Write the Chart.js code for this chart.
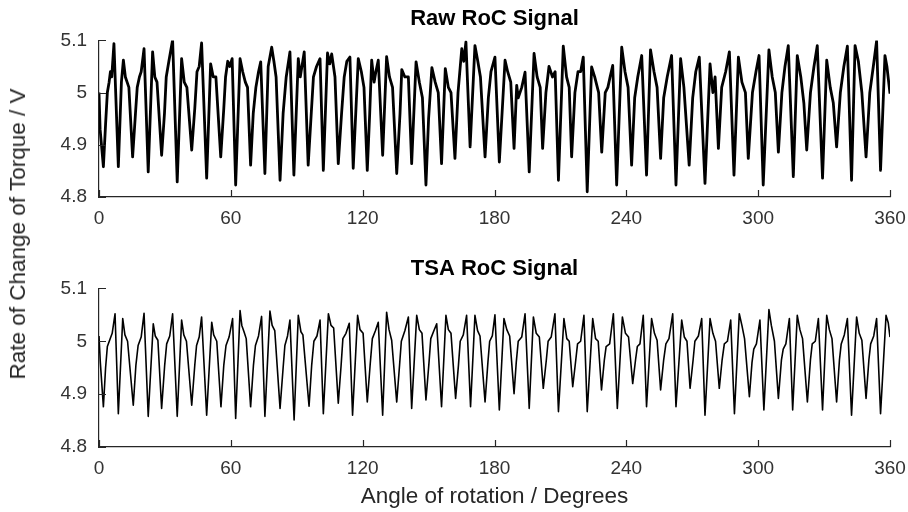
<!DOCTYPE html>
<html>
<head>
<meta charset="utf-8">
<script src="https://cdn.jsdelivr.net/npm/chart.js@4.4.1/dist/chart.umd.min.js"></script>
<style>
  html, body { margin: 0; padding: 0; background: #fff; }
  #wrap { position: relative; width: 908px; height: 512px; overflow: hidden; }
  #rawCanvas { position: absolute; left: 0; top: 0; }
  #tsaCanvas { position: absolute; left: 0; top: 250px; }
  #yTitle {
    position: absolute; left: 18px; top: 234px;
    transform: translate(-50%, -50%) rotate(-90deg);
    font-family: "Liberation Sans", Arial, sans-serif; font-size: 22.5px;
    color: #262626; white-space: nowrap;
  }
</style>
</head>
<body>
<div id="wrap">
  <canvas id="rawCanvas" width="908" height="250"></canvas>
  <canvas id="tsaCanvas" width="908" height="262"></canvas>
  <div id="yTitle">Rate of Change of Torque / V</div>
</div>
<script>
// Axis ticks
const angleTicks = [0, 60, 120, 180, 240, 300, 360];
const voltTicks = [4.8, 4.9, 5.0, 5.1];

// Raw rate-of-change signal: angle (degrees) and value (V)
const rawAngle = [
  0.0, 0.5, 2.0, 3.0, 3.8, 4.6, 5.2, 5.8, 6.8,
  8.8, 10.2, 11.1, 12.0, 12.8, 13.6, 15.3, 16.6, 17.4, 18.4, 19.2, 20.5,
  22.4, 24.4, 25.4, 26.4, 28.5, 29.8, 30.6, 31.8, 33.5,
  35.6, 37.6, 38.8, 40.0, 42.2, 43.6, 44.6, 45.6, 46.7,
  49.0, 50.8, 52.0, 53.2, 55.4, 56.8, 57.6, 58.6, 59.5, 60.6,
  62.2, 64.2, 65.4, 66.6, 67.6, 69.0, 70.2, 71.4, 72.6, 73.6,
  75.5, 77.0, 78.6, 79.6, 80.6, 82.4, 83.8, 85.2, 86.9,
  88.7, 90.7, 91.6, 93.4, 95.2, 96.6, 97.6, 99.0, 100.6,
  102.1, 104.0, 105.0, 105.9, 107.4, 108.9, 110.4, 111.6, 112.8, 114.2,
  115.7, 118.0, 119.4, 120.6, 122.1, 123.2, 124.1, 125.2, 126.0, 127.1,
  129.1, 130.9, 132.2, 133.6, 135.5, 137.0, 137.8, 139.2, 140.8,
  142.3, 144.3, 145.8, 147.2, 148.8, 150.0, 151.5, 153.0, 154.4,
  155.9, 157.6, 159.0, 160.2, 162.0, 163.4, 165.1, 166.0, 167.0,
  168.9, 171.1, 172.4, 173.6, 175.7, 177.2, 178.4, 180.2,
  182.2, 184.8, 186.0, 187.4, 188.9, 190.1, 190.8, 192.4, 193.9,
  195.8, 198.0, 199.4, 200.8, 201.9, 203.4, 204.8, 206.4, 207.6,
  209.1, 211.3, 212.8, 214.0, 215.1, 216.6, 218.0, 219.2, 220.4,
  222.2, 224.2, 225.6, 227.4, 228.8, 230.4, 231.6, 232.6, 233.8,
  235.6, 237.9, 239.4, 240.8, 242.4, 243.8, 245.2, 247.0,
  249.2, 251.0, 252.6, 254.0, 255.6, 257.0, 258.6, 260.6,
  262.6, 264.7, 266.2, 268.6, 270.2, 271.6, 273.2,
  275.8, 278.1, 279.4, 280.4, 281.9, 283.4, 285.2, 286.9,
  289.0, 291.0, 292.6, 294.2, 295.5, 297.4, 299.0, 300.4,
  302.3, 304.9, 306.4, 307.8, 309.2, 310.8, 312.2, 313.7,
  316.0, 317.8, 319.4, 320.8, 322.1, 323.8, 325.4, 326.9,
  329.3, 331.2, 332.8, 334.2, 335.7, 337.4, 339.0, 340.6,
  342.5, 344.1, 345.6, 347.2, 349.1, 350.8, 352.4, 353.9,
  355.7, 357.7, 358.6, 359.4, 360.0
];
const rawValue = [
  5.000, 4.930, 4.858, 4.940, 5.000, 5.020, 5.040, 5.030, 5.094,
  4.858, 5.020, 5.062, 5.030, 5.020, 5.010, 4.877, 4.960, 5.010, 5.030, 5.040, 5.084,
  4.848, 5.078, 5.030, 5.020, 4.880, 4.960, 5.030, 5.060, 5.101,
  4.829, 5.065, 5.020, 5.010, 4.890, 4.970, 5.040, 5.050, 5.095,
  4.836, 5.055, 5.030, 5.030, 4.877, 4.970, 5.030, 5.060, 5.050, 5.065,
  4.823, 5.065, 5.040, 5.020, 5.010, 4.861, 4.960, 5.010, 5.040, 5.059,
  4.845, 5.050, 5.087, 5.060, 5.030, 4.832, 4.960, 5.030, 5.078,
  4.842, 5.065, 5.030, 5.078, 4.861, 4.960, 5.030, 5.050, 5.065,
  4.851, 5.076, 5.055, 5.074, 5.030, 4.864, 4.960, 5.030, 5.060, 5.068,
  4.855, 5.065, 5.040, 5.010, 4.851, 4.960, 5.062, 5.020, 5.040, 5.062,
  4.880, 5.069, 5.030, 5.010, 4.845, 4.960, 5.044, 5.030, 5.030,
  4.864, 5.059, 5.020, 4.990, 4.823, 4.950, 5.048, 5.020, 5.000,
  4.864, 5.046, 5.010, 5.000, 4.874, 5.000, 5.084, 5.060, 5.097,
  4.896, 5.090, 5.060, 5.030, 4.877, 4.990, 5.040, 5.068,
  4.867, 5.062, 5.040, 5.020, 4.893, 5.014, 4.990, 5.010, 5.039,
  4.848, 5.075, 5.030, 5.010, 4.893, 5.000, 5.050, 5.030, 5.040,
  4.832, 5.089, 5.030, 5.010, 4.877, 5.000, 5.040, 5.040, 5.068,
  4.810, 5.049, 5.030, 5.000, 4.886, 5.000, 5.010, 5.030, 5.052,
  4.823, 5.087, 5.040, 5.010, 4.861, 4.990, 5.030, 5.071,
  4.842, 5.082, 5.040, 5.010, 4.874, 4.990, 5.030, 5.071,
  4.823, 5.065, 5.010, 4.861, 4.990, 5.040, 5.068,
  4.826, 5.055, 5.000, 5.030, 4.893, 5.010, 5.040, 5.078,
  4.842, 5.068, 5.020, 5.000, 4.874, 5.000, 5.040, 5.071,
  4.823, 5.082, 5.030, 5.000, 4.886, 5.000, 5.050, 5.090,
  4.839, 5.071, 5.030, 4.980, 4.890, 5.000, 5.050, 5.090,
  4.836, 5.062, 5.010, 4.980, 4.896, 5.000, 5.050, 5.089,
  4.832, 5.090, 5.060, 5.000, 4.877, 5.000, 5.050, 5.099,
  4.851, 5.071, 5.050, 5.020, 4.998
];

// Time-synchronous-averaged signal: angle (degrees) and value (V)
const tsaAngle = [
  0.0, 0.6, 2.0, 3.0, 3.8, 5.0, 6.0, 7.3,
  8.8, 10.8, 11.8, 13.0, 15.6, 16.8, 17.8, 19.2, 20.5,
  22.4, 24.7, 25.6, 26.8, 28.5, 29.9, 30.8, 32.2, 33.5,
  35.6, 37.6, 38.6, 39.8, 42.2, 43.6, 44.4, 45.6, 46.7,
  49.0, 51.3, 52.2, 53.6, 55.5, 56.8, 57.8, 59.2, 60.8,
  62.2, 64.2, 65.0, 66.0, 67.0, 69.0, 70.3, 71.2, 72.6, 74.0,
  75.5, 77.8, 78.8, 80.0, 82.4, 83.8, 84.6, 85.8, 86.9,
  88.8, 90.7, 91.9, 92.8, 95.6, 96.8, 97.8, 99.2, 100.6,
  102.1, 104.4, 105.6, 106.8, 108.9, 110.2, 111.0, 112.4, 113.9,
  115.4, 117.7, 118.8, 120.2, 122.1, 123.4, 124.4, 125.8, 127.1,
  129.1, 130.9, 132.0, 133.2, 135.5, 136.8, 137.6, 139.2, 140.8,
  142.3, 144.6, 145.8, 147.0, 148.8, 150.2, 151.0, 152.4, 153.7,
  155.9, 157.9, 159.0, 160.2, 162.3, 163.6, 164.4, 165.8, 167.3,
  169.1, 171.1, 172.3, 173.4, 175.7, 177.0, 177.8, 179.0, 180.2,
  182.2, 184.3, 185.6, 186.9, 188.9, 189.9, 190.8, 192.4, 193.9,
  195.8, 197.7, 199.0, 200.4, 202.2, 203.6, 204.4, 205.8, 207.5,
  209.1, 211.6, 212.9, 214.0, 215.6, 217.0, 217.8, 219.2, 220.7,
  222.2, 224.7, 226.0, 227.2, 228.7, 230.0, 230.8, 232.4, 234.1,
  235.9, 238.2, 239.6, 241.0, 242.9, 244.2, 245.0, 246.2, 247.7,
  249.2, 251.5, 252.8, 254.0, 255.6, 257.0, 258.0, 259.4, 261.1,
  262.6, 265.2, 266.4, 267.6, 269.0, 270.4, 271.2, 272.8, 274.3,
  275.8, 278.1, 279.4, 280.6, 282.3, 283.6, 284.6, 286.0, 287.5,
  289.2, 291.4, 292.6, 293.8, 296.0, 297.2, 298.0, 299.2, 300.8,
  302.6, 304.9, 306.0, 307.4, 309.2, 310.6, 311.4, 312.6, 314.2,
  315.7, 317.8, 319.0, 320.2, 322.4, 323.8, 324.6, 326.0, 327.4,
  329.3, 331.2, 332.4, 333.6, 335.7, 337.0, 337.8, 339.2, 340.6,
  342.5, 344.8, 346.0, 347.2, 349.1, 350.4, 351.2, 352.6, 353.9,
  355.7, 358.2, 359.2, 360.0
];
const tsaValue = [
  5.010, 4.960, 4.876, 4.950, 4.990, 5.004, 5.015, 5.052,
  4.863, 5.043, 5.012, 5.000, 4.879, 4.955, 4.992, 5.008, 5.053,
  4.858, 5.033, 5.010, 5.002, 4.873, 4.955, 4.995, 5.010, 5.052,
  4.858, 5.040, 5.012, 5.000, 4.879, 4.955, 4.992, 5.008, 5.046,
  4.860, 5.036, 5.012, 5.000, 4.876, 4.955, 4.992, 5.008, 5.043,
  4.854, 5.058, 5.030, 5.018, 5.005, 4.876, 4.955, 4.992, 5.010, 5.047,
  4.858, 5.057, 5.030, 5.020, 4.873, 4.950, 4.992, 5.010, 5.040,
  4.851, 5.049, 5.018, 5.012, 4.877, 4.955, 5.000, 5.010, 5.040,
  4.863, 5.052, 5.030, 5.025, 4.883, 4.955, 5.005, 5.015, 5.034,
  4.860, 5.049, 5.022, 5.015, 4.885, 4.955, 5.005, 5.020, 5.036,
  4.860, 5.055, 5.022, 5.002, 4.885, 4.955, 5.000, 5.020, 5.046,
  4.873, 5.049, 5.022, 5.015, 4.889, 4.960, 5.005, 5.020, 5.033,
  4.876, 5.049, 5.022, 5.015, 4.892, 4.955, 5.000, 5.012, 5.049,
  4.876, 5.049, 5.020, 5.010, 4.885, 4.960, 5.000, 5.010, 5.050,
  4.870, 5.043, 5.022, 5.010, 4.901, 4.960, 5.000, 5.008, 5.052,
  4.873, 5.046, 5.015, 5.008, 4.911, 4.965, 5.000, 5.008, 5.052,
  4.867, 5.043, 5.005, 5.000, 4.914, 4.965, 4.995, 5.000, 5.049,
  4.867, 5.043, 5.005, 5.000, 4.908, 4.965, 4.990, 4.995, 5.052,
  4.873, 5.046, 5.015, 5.008, 4.920, 4.965, 4.990, 4.995, 5.049,
  4.876, 5.043, 5.015, 5.002, 4.908, 4.965, 4.995, 5.005, 5.052,
  4.876, 5.040, 5.008, 5.000, 4.911, 4.965, 5.000, 5.010, 5.043,
  4.860, 5.043, 5.015, 5.000, 4.911, 4.965, 4.995, 5.000, 5.040,
  4.863, 5.052, 5.030, 5.005, 4.895, 4.960, 4.985, 4.995, 5.040,
  4.870, 5.060, 5.030, 5.000, 4.892, 4.965, 4.985, 4.995, 5.043,
  4.870, 5.049, 5.022, 5.005, 4.885, 4.965, 4.995, 5.000, 5.043,
  4.870, 5.049, 5.022, 5.005, 4.885, 4.965, 4.995, 5.012, 5.043,
  4.860, 5.046, 5.015, 5.002, 4.892, 4.965, 4.995, 5.010, 5.043,
  4.863, 5.049, 5.035, 5.008
];

const FONT = '"Liberation Sans", Arial, Helvetica, sans-serif';
const AXIS_COLOR = '#262626';
const TICK_COLOR = '#333333';

// MATLAB-style tick marks pointing into the plot area
const inwardTicks = {
  id: 'inwardTicks',
  afterDraw(chart) {
    const { ctx, chartArea: a, scales: { x, y } } = chart;
    ctx.save();
    ctx.strokeStyle = AXIS_COLOR;
    ctx.lineWidth = 1.2;
    ctx.beginPath();
    x.ticks.forEach(t => {
      const px = Math.round(x.getPixelForValue(t.value)) + 0.5;
      ctx.moveTo(px, a.bottom);
      ctx.lineTo(px, a.bottom - 7);
    });
    y.ticks.forEach(t => {
      const py = Math.round(y.getPixelForValue(t.value)) + 0.5;
      ctx.moveTo(a.left, py);
      ctx.lineTo(a.left + 7, py);
    });
    ctx.stroke();
    ctx.restore();
  }
};

function buildPlot(canvasId, angles, values, titleText, lineWidth, xHeight, titlePad, xTitle) {
  const points = angles.map((a, i) => ({ x: a, y: values[i] }));
  return new Chart(document.getElementById(canvasId), {
    type: 'line',
    data: {
      datasets: [{
        data: points,
        borderColor: '#000000',
        borderWidth: lineWidth,
        pointRadius: 0,
        tension: 0,
        fill: false,
        borderJoinStyle: 'round'
      }]
    },
    options: {
      responsive: false,
      animation: false,
      events: [],
      layout: { padding: { left: 0, right: 18, top: 0, bottom: 0 } },
      plugins: {
        legend: { display: false },
        tooltip: { enabled: false },
        title: {
          display: true,
          fullSize: false,
          text: titleText,
          color: '#000000',
          font: { family: FONT, size: 22, weight: 'bold' },
          padding: titlePad
        }
      },
      scales: {
        x: {
          type: 'linear',
          min: 0,
          max: 360,
          afterBuildTicks: s => { s.ticks = angleTicks.map(v => ({ value: v })); },
          afterFit: s => { s.height = xHeight; s.paddingLeft = 0; s.paddingRight = 0; },
          grid: { display: true, drawOnChartArea: false, drawTicks: false },
          border: { display: true, color: AXIS_COLOR, width: 1.2 },
          ticks: {
            color: TICK_COLOR,
            font: { family: FONT, size: 19 },
            padding: 10,
            maxRotation: 0,
            autoSkip: false,
            callback: v => String(v)
          },
          title: xTitle ? {
            display: true,
            text: xTitle,
            color: AXIS_COLOR,
            font: { family: FONT, size: 22.5 },
            padding: { top: 0, bottom: 2 }
          } : { display: false }
        },
        y: {
          min: 4.8,
          max: 5.1,
          afterBuildTicks: s => { s.ticks = voltTicks.map(v => ({ value: v })); },
          afterFit: s => { s.width = 99; s.paddingTop = 0; s.paddingBottom = 0; },
          grid: { display: true, drawOnChartArea: false, drawTicks: false },
          border: { display: true, color: AXIS_COLOR, width: 1.2 },
          ticks: {
            color: TICK_COLOR,
            font: { family: FONT, size: 19 },
            padding: 12,
            callback: v => String(Number(v.toFixed(1)))
          }
        }
      }
    },
    plugins: [inwardTicks]
  });
}

buildPlot('rawCanvas', rawAngle, rawValue, 'Raw RoC Signal', 2.8, 53,
  { top: 6, bottom: 8 }, null);
buildPlot('tsaCanvas', tsaAngle, tsaValue, 'TSA RoC Signal', 1.6, 65,
  { top: 6, bottom: 6 }, 'Angle of rotation / Degrees');
</script>
</body>
</html>
